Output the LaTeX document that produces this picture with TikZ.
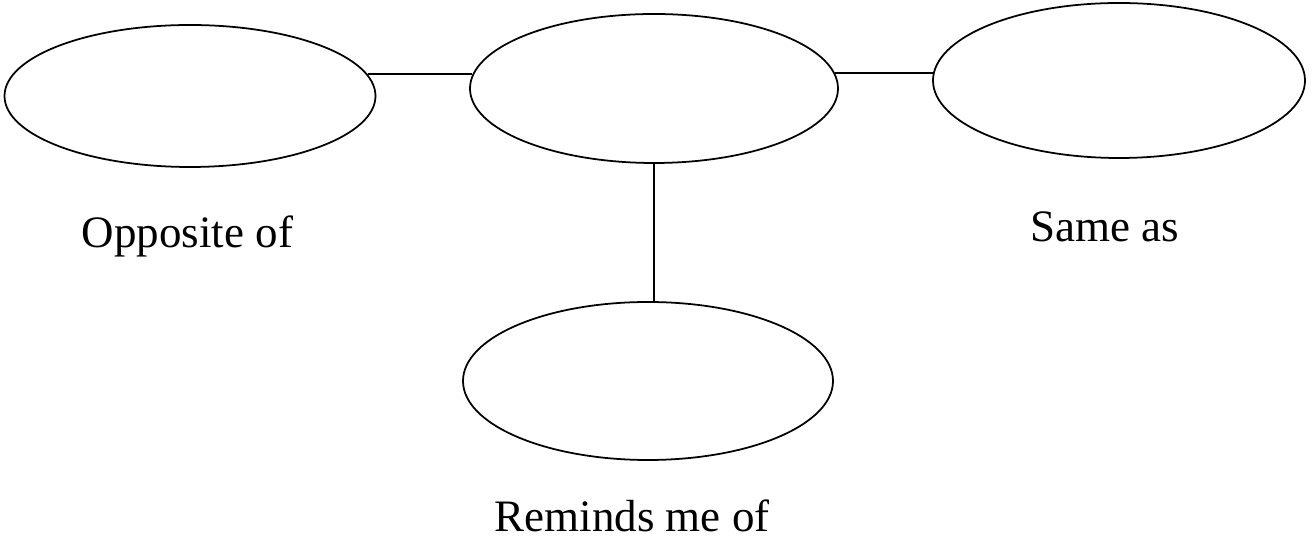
\documentclass[tikz,border=0pt]{standalone}
\usepackage{fontspec}
\setmainfont{Liberation Serif}
\usetikzlibrary{shapes.geometric}

\begin{document}
\begin{tikzpicture}[
    bubble/.style={ellipse, draw, line width=1pt, inner sep=0pt},
    lbl/.style={anchor=base, inner sep=0pt, font=\fontsize{25.6}{30}\selectfont}]
    \useasboundingbox (0,0) rectangle (26.26,10.8);
    \node[bubble, minimum width=7.42cm, minimum height=2.84cm] (lft) at (3.8,8.88) {};
    \node[bubble, minimum width=7.36cm, minimum height=2.98cm] (mid) at (13.08,9.03) {};
    \node[bubble, minimum width=7.44cm, minimum height=3.1cm] (rgt) at (22.38,9.19) {};
    \node[bubble, minimum width=7.4cm, minimum height=3.16cm] (bot) at (12.96,3.18) {};
    \draw[line width=1pt] (lft.7) -- (lft.7 -| mid.176);
    \draw[line width=1pt] (mid.5) -- (mid.5 -| rgt.177);
    \draw[line width=1pt] (mid.south) -- (mid.south |- bot.north);
    \node[lbl] (opp) at (3.75,5.84) {Opposite of};
    \node[lbl] (same) at (22.09,5.96) {Same as};
    \node[lbl] (rem) at (12.64,0.16) {Reminds me of};
\end{tikzpicture}
\end{document}
